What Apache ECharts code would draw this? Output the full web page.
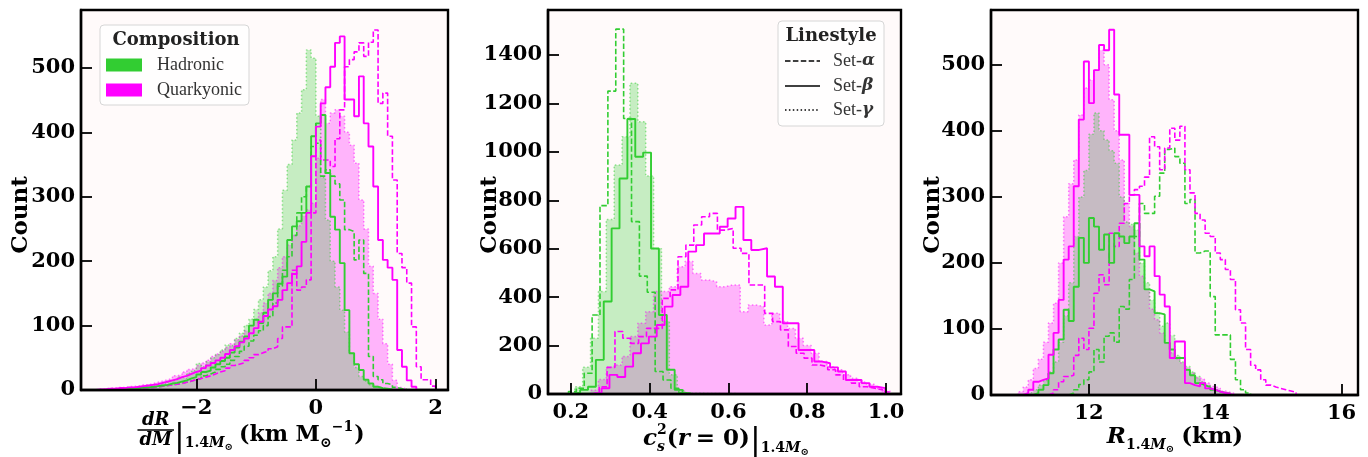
<!DOCTYPE html>
<html>
<head>
<meta charset="utf-8">
<script src="https://cdn.jsdelivr.net/npm/echarts@6/dist/echarts.min.js"></script>
<style>
  html, body { margin: 0; padding: 0; background: #ffffff; }
  #chart { width: 1368px; height: 457px; }
</style>
</head>
<body>
<div id="chart"></div>
<script>
// ---------------- histogram counts ----------------
// Panel 1: dR/dM at 1.4 Msun (bin width 0.08)
const dRdM_binWidth = 0.08;
const dRdM_H_alpha_start = -3.68;
const dRdM_H_alpha = [0,0,0,1,1, 1,2,2,3,3, 4,4,5,6,7, 8,9,11,12,14, 16,18,22,25,28, 32,36,40,46,52,
  60,68,76,85,92, 100,114,135,161,186, 207,240,275,300,316, 378,383,332,342,332, 320,295,249,246,202,
  233,181,52,21,16, 10,8,4,2,1];
const dRdM_H_beta_start = -3.68;
const dRdM_H_beta = [0,0,1,1,1, 2,2,3,3,4, 4,5,6,7,8, 10,11,13,15,18, 20,24,28,30,35, 40,45,50,58,66,
  75,83,100,109,104, 120,140,150,165,176, 233,254,262,275,316, 394,414,427,337,269, 249,197,124,57,40,
  31,16,10,5,3, 2,1];
const dRdM_H_gamma_start = -3.68;
const dRdM_H_gamma = [1,0,1,2,1, 2,3,2,4,5, 6,5,8,10,9, 14,16,20,18,26, 30,41,36,44,50, 55,62,70,68,80,
  88,100,110,125,140, 160,185,207,250,310, 350,388,430,466,528, 515,425,330,264,200, 160,124,90,57,35,
  21,14,8,5,3, 2,1];
const dRdM_Q_alpha_start = -3.68;
const dRdM_Q_alpha = [0,0,1,1,1, 1,2,2,3,3, 4,4,5,6,7, 8,9,10,12,14, 16,18,20,22,25, 28,30,34,38,40,
  42,46,50,55,58, 60,64,67,80,98, 98,186,155,160,171, 275,388,357,357,347, 390,435,502,513,525,
  539,518,540,559,445, 461,394,326,212,190, 166,98,36,16,16, 6];
const dRdM_Q_beta_start = -3.68;
const dRdM_Q_beta = [1,1,2,2,3, 3,4,4,5,6, 7,8,9,11,13, 15,17,20,22,25, 28,30,34,38,42, 46,50,56,62,68,
  74,80,88,96,106, 115,125,130,140,155, 166,180,192,230,275, 363,409,445,470,502, 539,549,451,451,425,
  487,414,378,316,233, 202,190,171,62,36, 15,5];
const dRdM_Q_gamma_start = -3.68;
const dRdM_Q_gamma = [1,2,3,3,4, 4,5,6,6,8, 8,10,12,14,16, 18,22,24,28,32, 34,38,42,46,52, 56,60,66,72,78,
  84,92,100,110,120, 135,150,170,190,207, 225,240,255,270,280, 290,360,451,414,430, 435,425,400,380,352,
  295,250,192,150,110, 72,40,15,4,1];

// Panel 2: central c_s^2 at 1.4 Msun (bin width 0.02)
const cs2_binWidth = 0.02;
const cs2_H_alpha_start = 0.194;
const cs2_H_alpha = [10,24,86,326,778,1251,1507,1138,712,487,420,93,58,24,5];
const cs2_H_beta_start = 0.2035;
const cs2_H_beta = [5,17,30,141,382,684,890,1136,980,997,601,326,100,17,3];
const cs2_H_gamma_start = 0.21;
const cs2_H_gamma = [30,110,230,423,721,946,1062,1283,1124,900,600,300,80,15,3,3,2,2,1,2,1,1,1,0,1];
const cs2_Q_alpha_start = 0.252;
const cs2_Q_alpha = [8,30,110,258,230,209,237,271,271,395,430,567,615,698,732,746,677,684,602,581,
  450,450,333,299,265,196,168,148,120,113,100,79,58,45,30,24,17,8];
const cs2_Q_beta_start = 0.258;
const cs2_Q_beta = [5,24,79,70,113,168,209,237,285,361,409,443,588,615,663,663,691,725,773,636,
  595,602,485,443,292,292,182,182,134,127,110,93,58,58,45,30,24];
const cs2_Q_gamma_start = 0.25;
const cs2_Q_gamma = [15,60,110,120,155,237,292,340,423,423,443,526,547,498,471,464,443,450,450,340,
  368,361,285,333,299,271,230,200,168,134,113,100,79,65,50,40,24,12];

// Panel 3: R at 1.4 Msun in km (bin width 0.08)
const R14_binWidth = 0.08;
const R14_H_alpha_start = 11.68;
const R14_H_alpha = [3,8,16,23,35,69,50,89,94,80,134,130,175,240,290,275,275,301,336,372,374,361,351,
  290,296,215,218,218,149,91,91,91,54,23,8,3];
const R14_H_beta_start = 11.12;
const R14_H_beta = [3,8,15,33,69,84,129,112,164,238,200,268,255,220,243,200,245,240,230,240,260,205,
  160,157,124,122,79,69,56,56,38,30,18,15,12,8,5,3,2];
const R14_H_gamma_start = 10.96;
const R14_H_gamma = [2,4,8,15,22,35,50,80,120,170,240,300,340,395,427,400,386,370,351,300,262,258,250,
  200,170,144,125,104,109,90,60,50,43,35,28,20,14,10,6,3,2];
const R14_Q_alpha_start = 11.36;
const R14_Q_alpha = [3,8,20,28,30,60,86,69,101,154,182,167,245,225,260,290,303,311,316,330,391,376,341,
  374,404,386,407,341,306,275,265,245,240,215,205,190,175,129,109,69,45,38,23,15,12,10,8,6,4];
const R14_Q_beta_start = 10.96;
const R14_Q_beta = [3,8,20,23,25,61,94,144,205,225,316,417,505,442,492,530,522,553,455,394,394,303,303,
  225,210,225,180,152,134,56,81,81,18,15,13,18,10,8,5,3,2];
const R14_Q_gamma_start = 10.88;
const R14_Q_gamma = [5,12,23,40,54,80,109,139,200,270,320,356,424,465,477,492,522,500,447,400,356,290,
  255,215,180,160,130,114,94,79,64,55,49,40,33,26,23,18,13,10,6,4,2];

// Axis ticks
const dRdM_xTicks = [-2, 0, 2];
const dRdM_yTicks = [0, 100, 200, 300, 400, 500];
const cs2_xTicks = [0.2, 0.4, 0.6, 0.8, 1.0];
const cs2_yTicks = [0, 200, 400, 600, 800, 1000, 1200, 1400];
const R14_xTicks = [12, 14, 16];
const R14_yTicks = [0, 100, 200, 300, 400, 500];

// Labels
const compositionTitle = 'Composition';
const compositionNames = ['Hadronic', 'Quarkyonic'];
const linestyleTitle = 'Linestyle';
const linestyleNames = ['α', 'β', 'γ'];
const yTitle = 'Count';

// ---------------- styling ----------------
const GREEN = '#32cd32';
const MAGENTA = '#ff00ff';
const SERIF = '"DejaVu Serif", serif';
const FILL_ALPHA = 0.28;

function rgba(hex, a) {
  const n = parseInt(hex.slice(1), 16);
  return `rgba(${(n >> 16) & 255},${(n >> 8) & 255},${n & 255},${a})`;
}

// Turn bin counts into a step outline: [edge, count] pairs
function stepData(start, width, counts) {
  const pts = [[start, 0]];
  counts.forEach((c, i) => pts.push([+(start + i * width).toFixed(4), c]));
  const end = +(start + counts.length * width).toFixed(4);
  pts.push([end, counts[counts.length - 1]]);
  pts.push([end, 0]);
  return pts;
}

const DASH = [5.5, 2.4];
const DOT = [1.5, 2.4];

function histSeries(idx, start, width, counts, color, kind) {
  const s = {
    type: 'line', xAxisIndex: idx, yAxisIndex: idx,
    data: stepData(start, width, counts), step: 'end',
    symbol: 'none', showSymbol: false, silent: true, animation: false,
    clip: true
  };
  if (kind === 'alpha') {
    s.lineStyle = { color: color, width: 1.6, type: DASH };
    s.z = 4;
  } else if (kind === 'beta') {
    s.lineStyle = { color: color, width: 1.9, type: 'solid' };
    s.z = 4;
  } else {
    s.lineStyle = { color: rgba(color, 0.5), width: 1.5, type: DOT };
    s.areaStyle = { color: rgba(color, FILL_ALPHA), opacity: 1 };
    s.z = 2;
  }
  return s;
}

const grids = [
  { left: 81, top: 10, width: 367, height: 380 },
  { left: 548, top: 10, width: 353, height: 384 },
  { left: 991, top: 10, width: 367, height: 385 }
].map(g => Object.assign(g, { show: true, backgroundColor: '#fffafa', borderColor: '#000', borderWidth: 2.4 }));

const tickFont = { fontFamily: SERIF, fontWeight: 'bold', fontSize: 21, color: '#000' };
const fmtMinus = v => String(v).replace('-', '\u2212');

function xAxis(idx, min, max, ticks, fmt) {
  return {
    type: 'value', gridIndex: idx, min, max, z: 10,
    axisLine: { show: true, onZero: false, lineStyle: { color: '#000', width: 2.4 } },
    axisTick: { show: true, inside: true, length: 11, customValues: ticks, lineStyle: { color: '#000', width: 1.8 } },
    axisLabel: Object.assign({ show: true, margin: 8, customValues: ticks, formatter: fmt || fmtMinus }, tickFont),
    splitLine: { show: false }
  };
}
function yAxis(idx, max, ticks) {
  return {
    type: 'value', gridIndex: idx, min: 0, max, z: 10,
    axisLine: { show: true, onZero: false, lineStyle: { color: '#000', width: 2.4 } },
    axisTick: { show: true, inside: true, length: 11, customValues: ticks, lineStyle: { color: '#000', width: 1.8 } },
    axisLabel: Object.assign({ show: true, margin: 6, customValues: ticks, formatter: v => String(v) }, tickFont),
    splitLine: { show: false }
  };
}

const series = [];
// filled Set-gamma histograms first (quarkyonic below hadronic)
series.push(histSeries(0, dRdM_Q_gamma_start, dRdM_binWidth, dRdM_Q_gamma, MAGENTA, 'gamma'));
series.push(histSeries(0, dRdM_H_gamma_start, dRdM_binWidth, dRdM_H_gamma, GREEN, 'gamma'));
series.push(histSeries(1, cs2_Q_gamma_start, cs2_binWidth, cs2_Q_gamma, MAGENTA, 'gamma'));
series.push(histSeries(1, cs2_H_gamma_start, cs2_binWidth, cs2_H_gamma, GREEN, 'gamma'));
series.push(histSeries(2, R14_Q_gamma_start, R14_binWidth, R14_Q_gamma, MAGENTA, 'gamma'));
series.push(histSeries(2, R14_H_gamma_start, R14_binWidth, R14_H_gamma, GREEN, 'gamma'));
// outlines
series.push(histSeries(0, dRdM_H_alpha_start, dRdM_binWidth, dRdM_H_alpha, GREEN, 'alpha'));
series.push(histSeries(0, dRdM_Q_alpha_start, dRdM_binWidth, dRdM_Q_alpha, MAGENTA, 'alpha'));
series.push(histSeries(0, dRdM_H_beta_start, dRdM_binWidth, dRdM_H_beta, GREEN, 'beta'));
series.push(histSeries(0, dRdM_Q_beta_start, dRdM_binWidth, dRdM_Q_beta, MAGENTA, 'beta'));
series.push(histSeries(1, cs2_H_alpha_start, cs2_binWidth, cs2_H_alpha, GREEN, 'alpha'));
series.push(histSeries(1, cs2_Q_alpha_start, cs2_binWidth, cs2_Q_alpha, MAGENTA, 'alpha'));
series.push(histSeries(1, cs2_H_beta_start, cs2_binWidth, cs2_H_beta, GREEN, 'beta'));
series.push(histSeries(1, cs2_Q_beta_start, cs2_binWidth, cs2_Q_beta, MAGENTA, 'beta'));
series.push(histSeries(2, R14_H_alpha_start, R14_binWidth, R14_H_alpha, GREEN, 'alpha'));
series.push(histSeries(2, R14_Q_alpha_start, R14_binWidth, R14_Q_alpha, MAGENTA, 'alpha'));
series.push(histSeries(2, R14_H_beta_start, R14_binWidth, R14_H_beta, GREEN, 'beta'));
series.push(histSeries(2, R14_Q_beta_start, R14_binWidth, R14_Q_beta, MAGENTA, 'beta'));

// ---------------- text helpers ----------------
const measureCtx = document.createElement('canvas').getContext('2d');
function fontOf(p) {
  return `${p.italic ? 'italic ' : ''}${p.bold === false ? '' : 'bold '}${p.size}px ${p.family || SERIF}`;
}
function textW(str, font) { measureCtx.font = font; return measureCtx.measureText(str).width; }

function txt(text, font, x, y, align, vAlign) {
  return { type: 'text', z: 50, style: { text, font, x, y, align, verticalAlign: vAlign, fill: '#000' } };
}

// Lays out a row of math pieces centred on cx with a common baseline.
// Piece kinds: plain text (optional rise), fraction, stacked super/subscript.
function mathLabel(pieces, cx, baseline) {
  const widths = pieces.map(p => {
    const f = fontOf(p);
    if (p.frac) return Math.max(textW(p.frac[0], f), textW(p.frac[1], f)) + 4;
    if (p.supsub) return Math.max(textW(p.supsub[0], f), textW(p.supsub[1], f)) + (p.pad || 0);
    return textW(p.text, f) + (p.pad || 0);
  });
  const total = widths.reduce((a, b) => a + b, 0);
  let x = cx - total / 2;
  const els = [];
  pieces.forEach((p, i) => {
    const w = widths[i];
    const f = fontOf(p);
    if (p.frac) {
      const bar = baseline - p.barRise;
      els.push(txt(p.frac[0], f, x + w / 2, bar - 1, 'center', 'bottom'));
      els.push({ type: 'line', z: 50, shape: { x1: x, y1: bar, x2: x + w, y2: bar }, style: { stroke: '#000', lineWidth: 1.6 } });
      els.push(txt(p.frac[1], f, x + w / 2, bar + 1, 'center', 'top'));
    } else if (p.supsub) {
      els.push(txt(p.supsub[0], f, x, baseline - p.sup - p.size * 0.32, 'left', 'middle'));
      els.push(txt(p.supsub[1], fontOf(Object.assign({}, p, { italic: true })), x, baseline + p.sub - p.size * 0.32, 'left', 'middle'));
    } else {
      els.push(txt(p.text, f, x, baseline - (p.rise || 0) - p.size * 0.32, 'left', 'middle'));
    }
    x += w;
  });
  return els;
}

const graphics = [];
// x-axis titles
graphics.push(...mathLabel([
  { frac: ['dR', 'dM'], size: 18, italic: true, barRise: 12 },
  { text: '|', size: 32, bold: false, rise: -6 },
  { text: '1.4', size: 14, rise: -6 },
  { text: 'M', size: 14, italic: true, rise: -6 },
  { text: '\u2299', size: 10, rise: -9, pad: 6 },
  { text: '(km M', size: 22 },
  { text: '\u2299', size: 14, rise: -6 },
  { text: '\u22121', size: 14, rise: 10, pad: 1 },
  { text: ')', size: 22 }
], 251, 442));
graphics.push(...mathLabel([
  { text: 'c', size: 23, italic: true },
  { supsub: ['2', 's'], size: 14, sup: 11, sub: 6 },
  { text: '(', size: 23 },
  { text: 'r', size: 23, italic: true, pad: 6 },
  { text: '= 0)', size: 23 },
  { text: '|', size: 32, bold: false, rise: -6 },
  { text: '1.4', size: 14, rise: -7 },
  { text: 'M', size: 14, italic: true, rise: -7 },
  { text: '\u2299', size: 10, rise: -10 }
], 726, 446));
graphics.push(...mathLabel([
  { text: 'R', size: 23, italic: true },
  { text: '1.4', size: 14, rise: -6 },
  { text: 'M', size: 14, italic: true, rise: -6 },
  { text: '\u2299', size: 10, rise: -9, pad: 7 },
  { text: '(km)', size: 23 }
], 1175, 444));

// y-axis titles
[[21, 215], [490, 215], [933, 215]].forEach(([x, y]) => {
  graphics.push({ type: 'text', z: 50, x: x, y: y, rotation: Math.PI / 2,
    style: { text: yTitle, font: fontOf({ size: 23 }), x: 0, y: 0, align: 'center', verticalAlign: 'middle', fill: '#000' } });
});

// Composition legend
graphics.push({ type: 'rect', z: 40, shape: { x: 100, y: 25, width: 149, height: 80, r: 4 },
  style: { fill: 'rgba(255,255,255,0.8)', stroke: '#d6d6d6', lineWidth: 1 } });
graphics.push({ type: 'text', z: 41, style: { text: compositionTitle, font: fontOf({ size: 18 }), x: 176, y: 40, align: 'center', verticalAlign: 'middle', fill: '#222' } });
[[GREEN, 65], [MAGENTA, 90]].forEach(([c, y], i) => {
  graphics.push({ type: 'rect', z: 41, shape: { x: 106, y: y - 6.5, width: 36, height: 13 }, style: { fill: c } });
  graphics.push({ type: 'text', z: 41, style: { text: compositionNames[i], font: `18px "Liberation Serif", serif`, x: 157, y: y, align: 'left', verticalAlign: 'middle', fill: '#333' } });
});

// Linestyle legend
graphics.push({ type: 'rect', z: 40, shape: { x: 778, y: 21, width: 106, height: 105, r: 4 },
  style: { fill: 'rgba(255,255,255,0.8)', stroke: '#d6d6d6', lineWidth: 1 } });
graphics.push({ type: 'text', z: 41, style: { text: linestyleTitle, font: fontOf({ size: 18 }), x: 831, y: 36, align: 'center', verticalAlign: 'middle', fill: '#222' } });
[[DASH, 61], [null, 86], [DOT, 110]].forEach(([d, y], i) => {
  graphics.push({ type: 'line', z: 41, shape: { x1: 785, y1: y, x2: 820, y2: y },
    style: { stroke: '#000', lineWidth: 1.5, lineDash: d || null } });
  graphics.push({ type: 'text', z: 41, style: {
    text: `{n|Set-}{g|${linestyleNames[i]}}`, x: 833, y: y, align: 'left', verticalAlign: 'middle',
    rich: { n: { font: `18px "Liberation Serif", serif`, fill: '#333' }, g: { font: `italic bold 17px ${SERIF}`, fill: '#333' } } } });
});

const chart = echarts.init(document.getElementById('chart'), null, { renderer: 'canvas' });
chart.setOption({
  backgroundColor: '#ffffff',
  animation: false,
  grid: grids,
  xAxis: [
    xAxis(0, -3.93, 2.21, dRdM_xTicks),
    xAxis(1, 0.142, 1.038, cs2_xTicks, v => v.toFixed(1)),
    xAxis(2, 10.45, 16.26, R14_xTicks)
  ],
  yAxis: [
    yAxis(0, 590, dRdM_yTicks),
    yAxis(1, 1586, cs2_yTicks),
    yAxis(2, 583, R14_yTicks)
  ],
  series: series,
  graphic: graphics
});
</script>
</body>
</html>
